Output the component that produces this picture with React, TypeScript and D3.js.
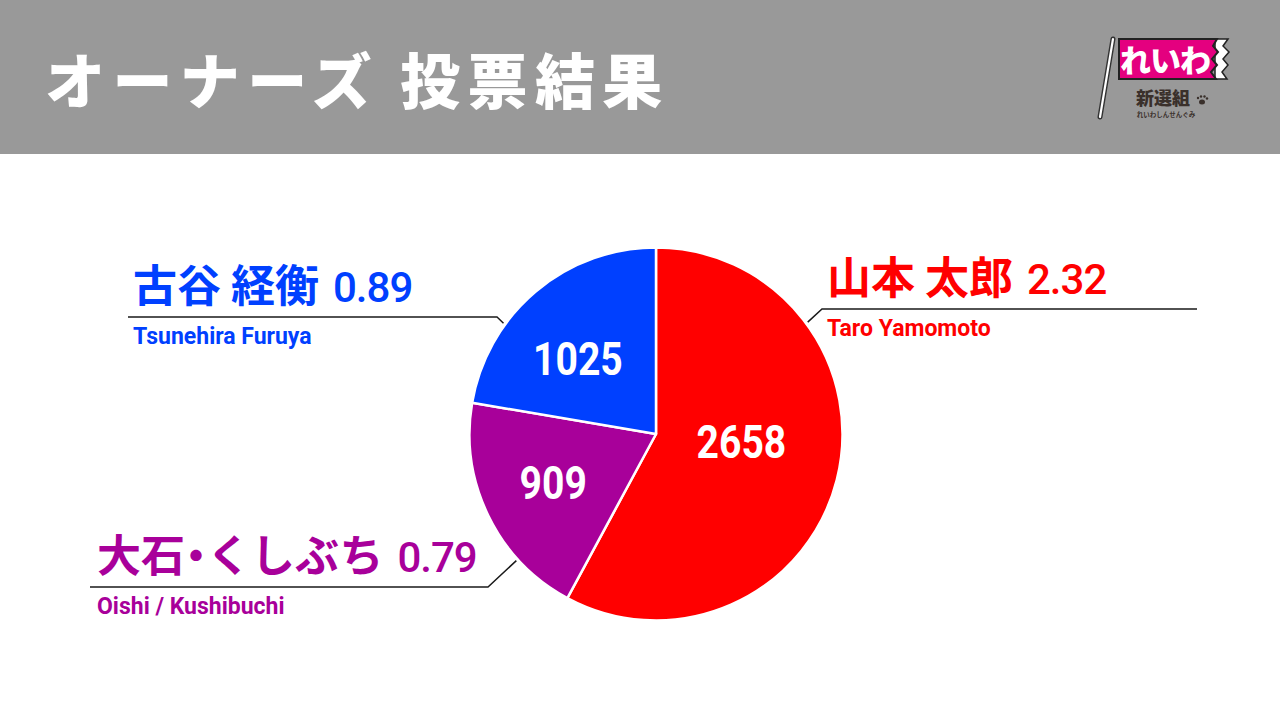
import React from "react";
import * as d3 from "d3";

// ---- data ----
const candidates = ["山本 太郎", "大石・くしぶち", "古谷 経衡"];
const romaji = ["Taro Yamomoto", "Oishi / Kushibuchi", "Tsunehira Furuya"];
const votes = [2658, 909, 1025];
const ratios = ["2.32", "0.79", "0.89"];
const colors = ["#FF0000", "#A8009A", "#0040FF"];
const title = "オーナーズ 投票結果";

// ---- layout ----
const W = 1280;
const H = 720;
const cx = 656;
const cy = 434;
const R = 186.5;

const calloutLayout = [
  { anchorDeg: 53.6, elbowX: 822, lineY: 309, endX: 1197, textX: 827 },
  { anchorDeg: 227.8, elbowX: 488, lineY: 587, endX: 90, textX: 97 },
  { anchorDeg: 306, elbowX: 497, lineY: 317, endX: 128, textX: 133 },
];
const valueLabelLayout = [
  { rf: 0.46, dDeg: -9 },
  { rf: 0.61, dDeg: 0.6 },
  { rf: 0.58, dDeg: -6 },
];

const polar = (deg: number, r: number): [number, number] => {
  const a = (deg * Math.PI) / 180;
  return [cx + r * Math.sin(a), cy - r * Math.cos(a)];
};

const JP = "'Noto Sans CJK JP', 'Noto Sans', sans-serif";
const NUM = "Roboto, 'Noto Sans', sans-serif";

function Logo() {
  return (
    <g>
      <line x1={1113} y1={39} x2={1100} y2={117} stroke="#333" strokeWidth={5} strokeLinecap="round" />
      <line x1={1113} y1={39} x2={1100} y2={117} stroke="#fff" strokeWidth={2.2} strokeLinecap="round" />
      <path
        d="M1228,39 L1223,46 L1229,52 L1223,59 L1228,65 L1222,72 L1227,79 L1215,79 L1215,39 Z"
        fill="#fff"
        stroke="#222"
        strokeWidth={1.5}
      />
      <path
        d="M1119,39 L1217,39 L1213,46 L1218,52 L1212,59 L1217,65 L1211,72 L1216,79 L1119,79 Z"
        fill="#E4007F"
        stroke="#222"
        strokeWidth={2}
      />
      <text x={1165} y={72} textAnchor="middle" fill="#fff" fontFamily={JP} fontWeight={900} fontSize={31} letterSpacing={-1}>
        れいわ
      </text>
      <text x={1163} y={105} textAnchor="middle" fill="#3a302b" fontFamily={JP} fontWeight={900} fontSize={18}>
        新選組
      </text>
      <g fill="#3a302b">
        <ellipse cx={1202} cy={102} rx={3} ry={2.5} />
        <circle cx={1198} cy={98} r={1.2} />
        <circle cx={1201} cy={96.5} r={1.2} />
        <circle cx={1204.5} cy={96.5} r={1.2} />
        <circle cx={1207} cy={98.5} r={1.2} />
      </g>
      <text x={1166} y={117} textAnchor="middle" fill="#3a302b" fontFamily={JP} fontWeight={700} fontSize={6.5}>
        れいわしんせんぐみ
      </text>
    </g>
  );
}

export default function App() {
  const arcs = d3
    .pie<number>()
    .sort(null)
    .value((d) => d)
    .startAngle(0)
    .endAngle(2 * Math.PI)(votes);
  const arcGen = d3.arc<d3.PieArcDatum<number>>().innerRadius(0).outerRadius(R);

  return (
    <svg
      width={W}
      height={H}
      viewBox={`0 0 ${W} ${H}`}
      style={{ position: "absolute", left: 0, top: 0, background: "#fff" }}
    >
      <rect x={0} y={0} width={W} height={H} fill="#fff" />
      <rect x={0} y={0} width={W} height={154} fill="#999999" />
      <text x={45} y={104} fill="#fff" fontFamily={JP} fontWeight={900} fontSize={60} letterSpacing={7.4}>
        {title}
      </text>
      <Logo />

      <g>
        {arcs.map((a, i) => (
          <path
            key={i}
            transform={`translate(${cx},${cy})`}
            d={arcGen(a) || ""}
            fill={colors[i]}
            stroke="#fff"
            strokeWidth={2.5}
            strokeLinejoin="round"
          />
        ))}
      </g>

      {arcs.map((a, i) => {
        const mid = (((a.startAngle + a.endAngle) / 2) * 180) / Math.PI;
        const L = valueLabelLayout[i];
        const [x, y] = polar(mid + L.dDeg, R * L.rf);
        return (
          <text
            key={i}
            transform={`translate(${x},${y + 16}) scale(0.85,1)`}
            textAnchor="middle"
            fill="#fff"
            fontFamily={NUM}
            fontWeight={700}
            fontSize={46}
          >
            {votes[i]}
          </text>
        );
      })}

      {calloutLayout.map((c, i) => {
        const [px, py] = polar(c.anchorDeg, R + 2);
        const parts = candidates[i].split(/(・)/).filter((p) => p.length > 0);
        return (
          <g key={i}>
            <polyline
              points={`${px},${py} ${c.elbowX},${c.lineY} ${c.endX},${c.lineY}`}
              fill="none"
              stroke="#1a1a1a"
              strokeWidth={1.5}
            />
            <text x={c.textX} y={c.lineY - 15} fill={colors[i]}>
              <tspan fontFamily={JP} fontWeight={700} fontSize={44}>
                {parts.map((p, k) =>
                  p === "・" ? (
                    <tspan key={k} style={{ fontFeatureSettings: "'palt'" }}>
                      {p}
                    </tspan>
                  ) : (
                    <tspan key={k}>{p}</tspan>
                  )
                )}
              </tspan>
              <tspan dx={14} fontFamily={NUM} fontWeight={500} fontSize={42} letterSpacing={-1}>
                {ratios[i]}
              </tspan>
            </text>
            <text x={c.textX} y={c.lineY + 27} fill={colors[i]} fontFamily={NUM} fontWeight={700} fontSize={23}>
              {romaji[i]}
            </text>
          </g>
        );
      })}
    </svg>
  );
}
